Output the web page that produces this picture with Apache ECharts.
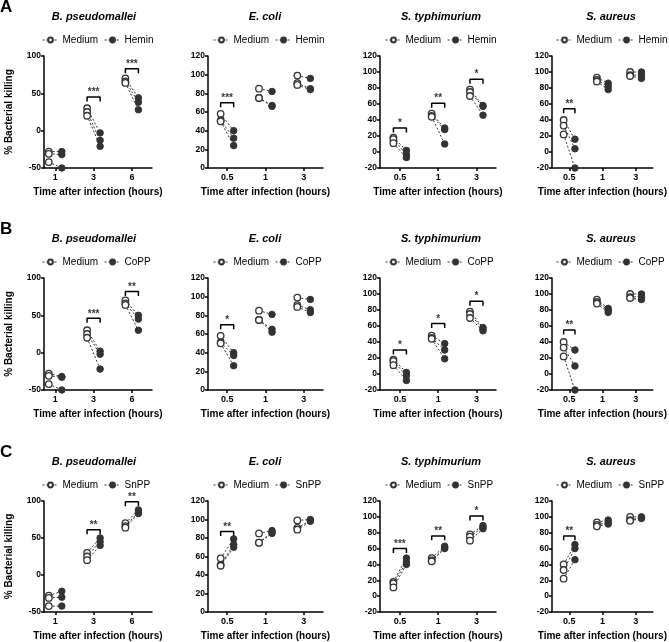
<!DOCTYPE html>
<html><head><meta charset="utf-8">
<script src="https://cdn.jsdelivr.net/npm/echarts@6/dist/echarts.min.js"></script>
<style>html,body{margin:0;padding:0;background:#fff}#c{width:669px;height:642px}</style>
</head><body><div id="c"></div>
<script>
// ---------- data ----------
const bacteria = ['B. pseudomallei', 'E. coli', 'S. typhimurium', 'S. aureus'];
const treatments = ['Hemin', 'CoPP', 'SnPP'];
const panelLetters = ['A', 'B', 'C'];
const bpCats = ['1', '3', '6'];
const ecCats = ['0.5', '1', '3'];
const stCats = ['0.5', '1', '3'];
const saCats = ['0.5', '1', '3'];
const yTickMin = [-50, 0, -20, -20];
const yTickMax = [100, 120, 120, 120];
const yTickStep = [50, 20, 20, 20];

// medium (shared per organism): [timepoint][replicate]
const bpMedium = [[-28, -31, -42], [30, 25, 20], [70, 66, 64]];
const ecMedium = [[58, 51, 50], [85, 75, 75], [99, 91, 89]];
const stMedium = [[18, 16, 11], [48, 45, 44], [78, 75, 70]];
const saMedium = [[40, 33, 22], [93, 90, 88], [100, 96, 95]];

// Hemin
const bpHemin = [[-28, -32, -50], [-3, -13, -21], [44, 38, 28]];
const ecHemin = [[40, 32, 24], [82, 67, 66], [96, 85, 84]];
const stHemin = [[2, -3, -7], [30, 28, 10], [58, 57, 46]];
const saHemin = [[16, 4, -20], [86, 82, 78], [100, 96, 92]];
// CoPP
const bpCoPP = [[-32, -33, -50], [2, -2, -22], [50, 45, 30]];
const ecCoPP = [[40, 37, 26], [81, 65, 62], [97, 86, 83]];
const stCoPP = [[2, -2, -8], [38, 30, 19], [58, 56, 54]];
const saCoPP = [[30, 10, -20], [82, 80, 77], [100, 97, 93]];
// SnPP
const bpSnPP = [[-22, -30, -42], [50, 45, 40], [88, 85, 83]];
const ecSnPP = [[79, 73, 70], [88, 86, 85], [100, 99, 98]];
const stSnPP = [[48, 43, 40], [63, 61, 60], [89, 87, 85]];
const saSnPP = [[65, 60, 46], [96, 93, 91], [100, 99, 98]];

// significance brackets (y level per timepoint) and stars
const sigYHemin = [[null, 45, 83], [70, null, null], [30, 61, 91], [54, null, null]];
const sigStarsHemin = [['', '***', '***'], ['***', '', ''], ['*', '**', '*'], ['**', '', '']];
const sigYCoPP = [[null, 46, 82], [70, null, null], [30, 63, 91], [55, null, null]];
const sigStarsCoPP = [['', '***', '**'], ['*', '', ''], ['*', '*', '*'], ['**', '', '']];
const sigYSnPP = [[null, 61, 99], [87, null, null], [60, 76, 101], [76, null, null]];
const sigStarsSnPP = [['', '**', '**'], ['**', '', ''], ['***', '**', '*'], ['**', '', '']];

// ---------- assembly ----------
const catsByCol = [bpCats, ecCats, stCats, saCats];
const mediumByCol = [bpMedium, ecMedium, stMedium, saMedium];
const treatByRow = [
  [bpHemin, ecHemin, stHemin, saHemin],
  [bpCoPP, ecCoPP, stCoPP, saCoPP],
  [bpSnPP, ecSnPP, stSnPP, saSnPP]
];
const sigYByRow = [sigYHemin, sigYCoPP, sigYSnPP];
const sigStarsByRow = [sigStarsHemin, sigStarsCoPP, sigStarsSnPP];

// layout
const colLeft = [44, 208, 380, 552];
const colWidth = [108, 115, 116, 116];
const xMin = [-0.295, -0.5, -0.52, -0.52];
const xMax = [2.525, 2.5, 2.51, 2.51];
const rowTop = [56, 278, 501];
const plotH = 112;
const titleCenter = [94, 265, 441, 611];
const legendLeft = [42, 213, 385, 556];
const off = 0.17;
const FONT = '"Liberation Sans", Arial, Helvetica, sans-serif';
const INK = '#333';

const cv = document.createElement('canvas').getContext('2d');
function textW(t, font) { cv.font = font; return cv.measureText(t).width; }

const grid = [], xAxis = [], yAxis = [], series = [], legend = [], title = [];

for (let r = 0; r < 3; r++) {
  title.push({
    text: panelLetters[r], left: 0, top: rowTop[r] - 57, padding: 0,
    textStyle: { fontFamily: FONT, fontWeight: 'bold', fontSize: 17, color: '#000' }
  });
  for (let c = 0; c < 4; c++) {
    const idx = r * 4 + c;
    const cats = catsByCol[c];
    const med = mediumByCol[c];
    const trt = treatByRow[r][c];
    const tname = treatments[r];
    grid.push({ left: colLeft[c], top: rowTop[r], width: colWidth[c], height: plotH });
    xAxis.push({
      gridIndex: idx, type: 'value', min: xMin[c], max: xMax[c],
      axisLine: { show: true, onZero: false, lineStyle: { color: '#000', width: 1.5 } },
      axisTick: { show: true, customValues: [0, 1, 2], length: 3, lineStyle: { color: '#000', width: 1.5 } },
      axisLabel: { customValues: [0, 1, 2], formatter: v => cats[Math.round(v)], fontFamily: FONT, fontWeight: 'bold', fontSize: 9, color: '#000', margin: 5 },
      splitLine: { show: false },
      name: 'Time after infection (hours)', nameLocation: 'middle', nameGap: 19,
      nameTextStyle: { fontFamily: FONT, fontWeight: 'bold', fontSize: 10, color: '#000' }
    });
    const ya = {
      gridIndex: idx, type: 'value', min: yTickMin[c], max: yTickMax[c], interval: yTickStep[c],
      axisLine: { show: true, onZero: false, lineStyle: { color: '#000', width: 1.5 } },
      axisTick: { show: true, length: 3, lineStyle: { color: '#000', width: 1.5 } },
      axisLabel: { fontFamily: FONT, fontWeight: 'bold', fontSize: 8.5, color: '#000', margin: 3 },
      splitLine: { show: false }
    };
    if (c === 0) {
      ya.name = '% Bacterial killing';
      ya.nameLocation = 'middle';
      ya.nameGap = 30;
      ya.nameTextStyle = { fontFamily: FONT, fontWeight: 'bold', fontSize: 10, color: '#000' };
    }
    yAxis.push(ya);

    // title
    const tFont = 'italic bold 11px ' + FONT;
    const tw = textW(bacteria[c], tFont);
    title.push({
      text: bacteria[c], left: titleCenter[c] - tw / 2, top: rowTop[r] - 45, padding: 0,
      textStyle: { fontFamily: FONT, fontStyle: 'italic', fontWeight: 'bold', fontSize: 11, color: '#000' }
    });

    // legend
    legend.push({
      data: ['Medium', tname], left: legendLeft[c], top: rowTop[r] - 21, padding: 0,
      width: 300, orient: 'horizontal',
      itemWidth: 16, itemHeight: 6, itemGap: 6, selectedMode: false,
      textStyle: { fontFamily: FONT, fontSize: 10, color: '#000', padding: [0, 0, 0, -1] },
      lineStyle: { opacity: 1, width: 1, type: [2, 2], color: INK }
    });

    // paired dashed connectors
    for (let g = 0; g < 3; g++) {
      for (let k = 0; k < med[g].length; k++) {
        series.push({
          type: 'line', xAxisIndex: idx, yAxisIndex: idx, silent: true, clip: false,
          symbol: 'none', z: 2, animation: false,
          lineStyle: { color: INK, width: 1, type: [2, 2] },
          data: [[g - off, med[g][k]], [g + off, trt[g][k]]]
        });
      }
    }
    // medium / treatment points
    const medPts = [], trtPts = [];
    for (let g = 0; g < 3; g++) {
      med[g].forEach(v => medPts.push([g - off, v]));
      trt[g].forEach(v => trtPts.push([g + off, v]));
    }
    series.push({
      name: 'Medium', type: 'line', xAxisIndex: idx, yAxisIndex: idx, clip: false,
      symbol: 'circle', symbolSize: 6.5, showSymbol: true, z: 4, animation: false,
      lineStyle: { opacity: 0, width: 1, type: [2, 2], color: INK },
      itemStyle: { color: '#fff', borderColor: INK, borderWidth: 1.3 },
      data: medPts
    });
    series.push({
      name: tname, type: 'line', xAxisIndex: idx, yAxisIndex: idx, clip: false,
      symbol: 'circle', symbolSize: 6.5, showSymbol: true, z: 4, animation: false,
      lineStyle: { opacity: 0, width: 1, type: [2, 2], color: INK },
      itemStyle: { color: INK, borderColor: INK, borderWidth: 1 },
      data: trtPts
    });
    // brackets + stars
    const ys = sigYByRow[r][c], st = sigStarsByRow[r][c];
    const drop = (yTickMax[c] - yTickMin[c]) * 4.5 / plotH;
    const starPts = [];
    for (let g = 0; g < 3; g++) {
      if (ys[g] == null) continue;
      series.push({
        type: 'line', xAxisIndex: idx, yAxisIndex: idx, silent: true, clip: false,
        symbol: 'none', z: 3, animation: false,
        lineStyle: { color: '#000', width: 1.5 },
        data: [[g - off, ys[g] - drop], [g - off, ys[g]], [g + off, ys[g]], [g + off, ys[g] - drop]]
      });
      starPts.push({ value: [g, ys[g]], name: st[g] });
    }
    if (starPts.length) {
      series.push({
        type: 'scatter', xAxisIndex: idx, yAxisIndex: idx, silent: true, clip: false,
        symbolSize: 1, itemStyle: { color: 'rgba(0,0,0,0)' }, animation: false, z: 5,
        label: { show: true, position: 'top', distance: -1, formatter: '{b}', fontFamily: FONT, fontWeight: 'bold', fontSize: 10, color: '#000' },
        data: starPts
      });
    }
  }
}

const chart = echarts.init(document.getElementById('c'), null, { renderer: 'canvas' });
chart.setOption({
  animation: false,
  backgroundColor: '#fff',
  textStyle: { fontFamily: FONT },
  title, grid, xAxis, yAxis, legend, series
});
</script>
</body></html>
